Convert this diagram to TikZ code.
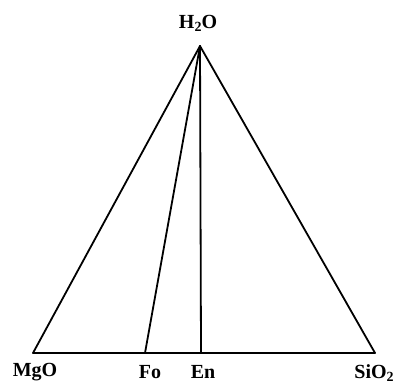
\documentclass[tikz,border=0pt]{standalone}
\usepackage{fontspec}
\setmainfont{Liberation Serif}
\newcommand{\subtwo}{\raisebox{-0.35ex}{\fontsize{14}{14}\selectfont 2}}
\begin{document}
\begin{tikzpicture}[x=1pt,y=-1pt,
  edge/.style={line width=1.8pt,line cap=round},
  lbl/.style={font=\fontsize{20}{22}\selectfont\bfseries,inner sep=0pt}]
\useasboundingbox (0,0) rectangle (401,386);
\coordinate (apex) at (200,46);
\coordinate (mgo) at (33,353);
\coordinate (fo) at (145,353);
\coordinate (en) at (201,353);
\coordinate (sio) at (375,353);
\draw[edge] (mgo) -- (sio);
\draw[edge] (apex) -- (mgo);
\draw[edge] (apex) -- (sio);
\draw[edge] (apex) -- (fo);
\draw[edge] (apex) -- (en);
\node[lbl] (h2o) at (198,23) {H\subtwo O};
\node[lbl] (lmgo) at (35,372) {MgO};
\node[lbl] (lfo) at (150,372) {Fo};
\node[lbl] (len) at (203,372) {En};
\node[lbl] (lsio) at (374,373) {SiO\subtwo};
\end{tikzpicture}
\end{document}
